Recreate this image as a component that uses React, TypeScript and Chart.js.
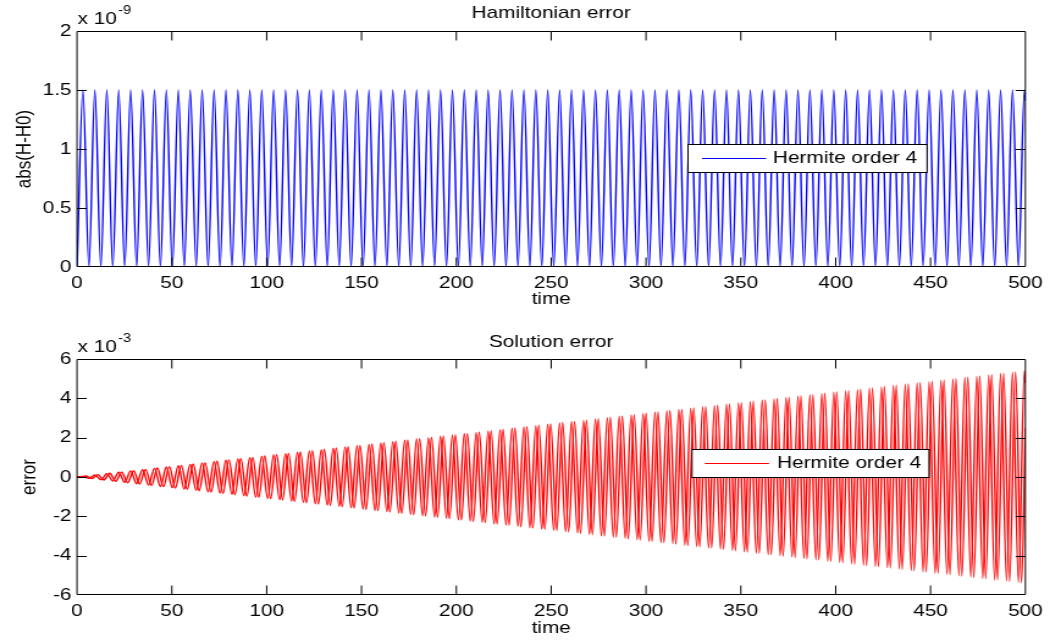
import React, { useEffect, useRef } from "react";
import { Chart, registerables } from "chart.js";

Chart.register(...registerables);

// ---------------- data ----------------
// times of the extremes of the oscillations (every half period)
const extremeTimes = [
  0, 3.14, 6.28, 9.42, 12.57, 15.71, 18.85, 21.99, 25.13, 28.27,
  31.42, 34.56, 37.7, 40.84, 43.98, 47.12, 50.27, 53.41, 56.55, 59.69,
  62.83, 65.97, 69.12, 72.26, 75.4, 78.54, 81.68, 84.82, 87.96, 91.11,
  94.25, 97.39, 100.53, 103.67, 106.81, 109.96, 113.1, 116.24, 119.38, 122.52,
  125.66, 128.81, 131.95, 135.09, 138.23, 141.37, 144.51, 147.65, 150.8, 153.94,
  157.08, 160.22, 163.36, 166.5, 169.65, 172.79, 175.93, 179.07, 182.21, 185.35,
  188.5, 191.64, 194.78, 197.92, 201.06, 204.2, 207.35, 210.49, 213.63, 216.77,
  219.91, 223.05, 226.19, 229.34, 232.48, 235.62, 238.76, 241.9, 245.04, 248.19,
  251.33, 254.47, 257.61, 260.75, 263.89, 267.04, 270.18, 273.32, 276.46, 279.6,
  282.74, 285.88, 289.03, 292.17, 295.31, 298.45, 301.59, 304.73, 307.88, 311.02,
  314.16, 317.3, 320.44, 323.58, 326.73, 329.87, 333.01, 336.15, 339.29, 342.43,
  345.58, 348.72, 351.86, 355, 358.14, 361.28, 364.42, 367.57, 370.71, 373.85,
  376.99, 380.13, 383.27, 386.42, 389.56, 392.7, 395.84, 398.98, 402.12, 405.27,
  408.41, 411.55, 414.69, 417.83, 420.97, 424.12, 427.26, 430.4, 433.54, 436.68,
  439.82, 442.96, 446.11, 449.25, 452.39, 455.53, 458.67, 461.81, 464.96, 468.1,
  471.24, 474.38, 477.52, 480.66, 483.81, 486.95, 490.09, 493.23, 496.37, 499.51,
  500,
];

// abs(H-H0), in units of 1e-9
const hamiltonianError = [
  0, 1.5, 0, 1.5, 0, 1.5, 0, 1.5, 0, 1.5,
  0, 1.5, 0, 1.5, 0, 1.5, 0, 1.5, 0, 1.5,
  0, 1.5, 0, 1.5, 0, 1.5, 0, 1.5, 0, 1.5,
  0, 1.5, 0, 1.5, 0, 1.5, 0, 1.5, 0, 1.5,
  0, 1.5, 0, 1.5, 0, 1.5, 0, 1.5, 0, 1.5,
  0, 1.5, 0, 1.5, 0, 1.5, 0, 1.5, 0, 1.5,
  0, 1.5, 0, 1.5, 0, 1.5, 0, 1.5, 0, 1.5,
  0, 1.5, 0, 1.5, 0, 1.5, 0, 1.5, 0, 1.5,
  0, 1.5, 0, 1.5, 0, 1.5, 0, 1.5, 0, 1.5,
  0, 1.5, 0, 1.5, 0, 1.5, 0, 1.5, 0, 1.5,
  0, 1.5, 0, 1.5, 0, 1.5, 0, 1.5, 0, 1.5,
  0, 1.5, 0, 1.5, 0, 1.5, 0, 1.5, 0, 1.5,
  0, 1.5, 0, 1.5, 0, 1.5, 0, 1.5, 0, 1.5,
  0, 1.5, 0, 1.5, 0, 1.5, 0, 1.5, 0, 1.5,
  0, 1.5, 0, 1.5, 0, 1.5, 0, 1.5, 0, 1.5,
  0, 1.5, 0, 1.5, 0, 1.5, 0, 1.5, 0, 1.5,
  1.41,
];

// extremes of the second error component (quarter period later)
const shiftedTimes = [
  0,
  1.57, 4.71, 7.85, 11, 14.14, 17.28, 20.42, 23.56, 26.7, 29.85,
  32.99, 36.13, 39.27, 42.41, 45.55, 48.69, 51.84, 54.98, 58.12, 61.26,
  64.4, 67.54, 70.69, 73.83, 76.97, 80.11, 83.25, 86.39, 89.54, 92.68,
  95.82, 98.96, 102.1, 105.24, 108.38, 111.53, 114.67, 117.81, 120.95, 124.09,
  127.23, 130.38, 133.52, 136.66, 139.8, 142.94, 146.08, 149.23, 152.37, 155.51,
  158.65, 161.79, 164.93, 168.08, 171.22, 174.36, 177.5, 180.64, 183.78, 186.92,
  190.07, 193.21, 196.35, 199.49, 202.63, 205.77, 208.92, 212.06, 215.2, 218.34,
  221.48, 224.62, 227.77, 230.91, 234.05, 237.19, 240.33, 243.47, 246.62, 249.76,
  252.9, 256.04, 259.18, 262.32, 265.46, 268.61, 271.75, 274.89, 278.03, 281.17,
  284.31, 287.46, 290.6, 293.74, 296.88, 300.02, 303.16, 306.31, 309.45, 312.59,
  315.73, 318.87, 322.01, 325.16, 328.3, 331.44, 334.58, 337.72, 340.86, 344,
  347.15, 350.29, 353.43, 356.57, 359.71, 362.85, 366, 369.14, 372.28, 375.42,
  378.56, 381.7, 384.85, 387.99, 391.13, 394.27, 397.41, 400.55, 403.7, 406.84,
  409.98, 413.12, 416.26, 419.4, 422.54, 425.69, 428.83, 431.97, 435.11, 438.25,
  441.39, 444.54, 447.68, 450.82, 453.96, 457.1, 460.24, 463.39, 466.53, 469.67,
  472.81, 475.95, 479.09, 482.24, 485.38, 488.52, 491.66, 494.8, 497.94,
  500,
];

// solution error, component 1 (at extremeTimes), units of 1e-3
const solutionErrorB = [
  0, 0.03, -0.07, 0.1, -0.14, 0.17, -0.2, 0.24, -0.27, 0.31,
  -0.34, 0.37, -0.41, 0.44, -0.48, 0.51, -0.54, 0.58, -0.61, 0.64,
  -0.68, 0.71, -0.75, 0.78, -0.81, 0.85, -0.88, 0.92, -0.95, 0.98,
  -1.02, 1.05, -1.09, 1.12, -1.15, 1.19, -1.22, 1.26, -1.29, 1.32,
  -1.36, 1.39, -1.43, 1.46, -1.49, 1.53, -1.56, 1.59, -1.63, 1.66,
  -1.7, 1.73, -1.76, 1.8, -1.83, 1.87, -1.9, 1.93, -1.97, 2.0,
  -2.04, 2.07, -2.1, 2.14, -2.17, 2.21, -2.24, 2.27, -2.31, 2.34,
  -2.38, 2.41, -2.44, 2.48, -2.51, 2.54, -2.58, 2.61, -2.65, 2.68,
  -2.71, 2.75, -2.78, 2.82, -2.85, 2.88, -2.92, 2.95, -2.99, 3.02,
  -3.05, 3.09, -3.12, 3.16, -3.19, 3.22, -3.26, 3.29, -3.33, 3.36,
  -3.39, 3.43, -3.46, 3.49, -3.53, 3.56, -3.6, 3.63, -3.66, 3.7,
  -3.73, 3.77, -3.8, 3.83, -3.87, 3.9, -3.94, 3.97, -4.0, 4.04,
  -4.07, 4.11, -4.14, 4.17, -4.21, 4.24, -4.28, 4.31, -4.34, 4.38,
  -4.41, 4.44, -4.48, 4.51, -4.55, 4.58, -4.61, 4.65, -4.68, 4.72,
  -4.75, 4.78, -4.82, 4.85, -4.89, 4.92, -4.95, 4.99, -5.02, 5.06,
  -5.09, 5.12, -5.16, 5.19, -5.23, 5.26, -5.29, 5.33, -5.36, 5.39,
  4.78,
];

// solution error, component 2 (at shiftedTimes), units of 1e-3
const solutionErrorA = [
  0,
  -0.02, 0.05, -0.08, 0.12, -0.15, 0.19, -0.22, 0.25, -0.29, 0.32,
  -0.36, 0.39, -0.42, 0.46, -0.49, 0.53, -0.56, 0.59, -0.63, 0.66,
  -0.7, 0.73, -0.76, 0.8, -0.83, 0.87, -0.9, 0.93, -0.97, 1.0,
  -1.03, 1.07, -1.1, 1.14, -1.17, 1.2, -1.24, 1.27, -1.31, 1.34,
  -1.37, 1.41, -1.44, 1.48, -1.51, 1.54, -1.58, 1.61, -1.65, 1.68,
  -1.71, 1.75, -1.78, 1.82, -1.85, 1.88, -1.92, 1.95, -1.98, 2.02,
  -2.05, 2.09, -2.12, 2.15, -2.19, 2.22, -2.26, 2.29, -2.32, 2.36,
  -2.39, 2.43, -2.46, 2.49, -2.53, 2.56, -2.6, 2.63, -2.66, 2.7,
  -2.73, 2.77, -2.8, 2.83, -2.87, 2.9, -2.93, 2.97, -3.0, 3.04,
  -3.07, 3.1, -3.14, 3.17, -3.21, 3.24, -3.27, 3.31, -3.34, 3.38,
  -3.41, 3.44, -3.48, 3.51, -3.55, 3.58, -3.61, 3.65, -3.68, 3.72,
  -3.75, 3.78, -3.82, 3.85, -3.88, 3.92, -3.95, 3.99, -4.02, 4.05,
  -4.09, 4.12, -4.16, 4.19, -4.22, 4.26, -4.29, 4.33, -4.36, 4.39,
  -4.43, 4.46, -4.5, 4.53, -4.56, 4.6, -4.63, 4.67, -4.7, 4.73,
  -4.77, 4.8, -4.83, 4.87, -4.9, 4.94, -4.97, 5.0, -5.04, 5.07,
  -5.11, 5.14, -5.17, 5.21, -5.24, 5.28, -5.31, 5.34, -5.38,
  2.51,
];

const timeTicks = [0, 50, 100, 150, 200, 250, 300, 350, 400, 450, 500];
const hamiltonianTicks = [0, 0.5, 1, 1.5, 2];
const errorTicks = [-6, -4, -2, 0, 2, 4, 6];

const legendLabel = "Hermite order 4";
const topTitle = "Hamiltonian error";
const bottomTitle = "Solution error";

// ---------------- layout / style ----------------
const CW = 860; // internal canvas width
const STRETCH = 1050 / CW; // the reference is stretched horizontally
const AREA_LEFT = 77 / STRETCH;
const AREA_RIGHT = 1030 / STRETCH;
const FONT = "'Liberation Sans', Arial, Helvetica, sans-serif";
const FS = 17;
const LINE_W = 1.4;

Chart.defaults.font.family = FONT;
Chart.defaults.color = "#000";

function toPoints(xs: number[], ys: number[]) {
  const n = Math.min(xs.length, ys.length);
  const out: { x: number; y: number }[] = [];
  for (let i = 0; i < n; i++) out.push({ x: xs[i], y: ys[i] });
  return out;
}

type PanelCfg = {
  top: number;
  height: number;
  padTop: number;
  xAxisH: number;
  title: string;
  titleBase: number;
  expSup: string;
  expBase: number;
  supBase: number;
  yTitle: string;
  yTitlePad: number;
  xTitlePad: number;
  yTicks: number[];
  legend: { x0: number; x1: number; y0: number; y1: number; l0: number; l1: number; tx: number };
  datasets: { label: string; color: string; points: { x: number; y: number }[] }[];
};

function matlabPlugin(p: PanelCfg) {
  return {
    id: "matlabAxes",
    afterDraw(chart: any) {
      const ctx = chart.ctx;
      const { left, right, top, bottom } = chart.chartArea;
      const xs = chart.scales.x;
      const ys = chart.scales.y;
      const T = Math.round(top) + 0.5;
      const B = Math.round(bottom) - 0.5;
      ctx.save();
      ctx.strokeStyle = "#000";
      ctx.lineWidth = 1;
      ctx.beginPath();
      ctx.rect(left, T, right - left, B - T);
      for (const v of timeTicks) {
        if (v <= xs.min || v >= xs.max) continue;
        const px = xs.getPixelForValue(v);
        ctx.moveTo(px, T);
        ctx.lineTo(px, T + 9);
        ctx.moveTo(px, B);
        ctx.lineTo(px, B - 9);
      }
      for (const v of p.yTicks) {
        if (v <= ys.min || v >= ys.max) continue;
        const py = Math.round(ys.getPixelForValue(v)) + 0.5;
        ctx.moveTo(left, py);
        ctx.lineTo(left + 8, py);
        ctx.moveTo(right, py);
        ctx.lineTo(right - 8, py);
      }
      ctx.stroke();

      // legend
      const L = p.legend;
      const ds = chart.data.datasets[0];
      ctx.fillStyle = "#fff";
      ctx.fillRect(L.x0, L.y0, L.x1 - L.x0, L.y1 - L.y0);
      ctx.strokeStyle = "#000";
      ctx.lineWidth = 1;
      ctx.strokeRect(L.x0, L.y0 + 0.5, L.x1 - L.x0, L.y1 - L.y0);
      const my = Math.round((L.y0 + L.y1) / 2) + 0.5;
      ctx.strokeStyle = ds.borderColor;
      ctx.lineWidth = 1.2;
      ctx.beginPath();
      ctx.moveTo(L.l0, my);
      ctx.lineTo(L.l1, my);
      ctx.stroke();
      ctx.fillStyle = "#000";
      ctx.font = `${FS}px ${FONT}`;
      ctx.textAlign = "left";
      ctx.textBaseline = "middle";
      ctx.fillText(ds.label, L.tx, my);

      // title
      ctx.textAlign = "center";
      ctx.textBaseline = "alphabetic";
      ctx.font = `${FS}px ${FONT}`;
      ctx.fillText(p.title, (left + right) / 2, p.titleBase);

      // exponent
      ctx.textAlign = "left";
      ctx.font = `${FS}px ${FONT}`;
      const ex = left + 0.5;
      ctx.fillText("x 10", ex, p.expBase);
      const w = ctx.measureText("x 10").width;
      ctx.font = `12px ${FONT}`;
      ctx.fillText(p.expSup, ex + w + 1, p.supBase);
      ctx.restore();
    },
  };
}

function buildConfig(p: PanelCfg, yMin: number, yMax: number): any {
  const tickFont = { family: FONT, size: FS };
  return {
    type: "line",
    data: {
      datasets: p.datasets.map((d) => ({
        label: d.label,
        data: d.points,
        borderColor: d.color,
        backgroundColor: d.color,
        borderWidth: LINE_W,
        pointRadius: 0,
        pointHoverRadius: 0,
        fill: false,
        cubicInterpolationMode: "monotone",
      })),
    },
    options: {
      animation: false,
      responsive: false,
      events: [],
      layout: { padding: { left: 0, right: CW - AREA_RIGHT, top: p.padTop, bottom: 0 } },
      plugins: {
        legend: { display: false },
        title: { display: false },
        tooltip: { enabled: false },
      },
      scales: {
        x: {
          type: "linear",
          min: 0,
          max: 500,
          afterBuildTicks: (s: any) => {
            s.ticks = timeTicks.map((v) => ({ value: v }));
          },
          afterFit: (s: any) => {
            s.height = p.xAxisH;
          },
          grid: { display: false, drawTicks: false },
          border: { display: false },
          ticks: {
            padding: 6,
            color: "#000",
            font: tickFont,
            maxRotation: 0,
            autoSkip: false,
            callback: (v: number) => String(v),
          },
          title: {
            display: true,
            text: "time",
            color: "#000",
            font: tickFont,
            padding: { top: 0, bottom: p.xTitlePad },
          },
        },
        y: {
          type: "linear",
          min: yMin,
          max: yMax,
          afterBuildTicks: (s: any) => {
            s.ticks = p.yTicks.map((v) => ({ value: v }));
          },
          afterFit: (s: any) => {
            s.width = AREA_LEFT;
          },
          grid: { display: false, drawTicks: false },
          border: { display: false },
          ticks: {
            padding: 4.5,
            color: "#000",
            font: tickFont,
            autoSkip: false,
            callback: (v: number) => String(v),
          },
          title: {
            display: true,
            text: p.yTitle,
            color: "#000",
            font: tickFont,
            padding: { top: p.yTitlePad, bottom: 0 },
          },
        },
      },
    },
    plugins: [matlabPlugin(p)],
  };
}

const topPanel: PanelCfg = {
  top: 0,
  height: 320,
  padTop: 31,
  xAxisH: 53,
  title: topTitle,
  titleBase: 18,
  expSup: "-9",
  expBase: 24,
  supBase: 13.5,
  yTitle: "abs(H-H0)",
  yTitlePad: 10,
  xTitlePad: 10,
  yTicks: hamiltonianTicks,
  legend: { x0: 563.5, x1: 759.3, y0: 144, y1: 172, l0: 575, l1: 627.4, tx: 633.1 },
  datasets: [{ label: legendLabel, color: "#0000ff", points: toPoints(extremeTimes, hamiltonianError) }],
};

const bottomPanel: PanelCfg = {
  top: 320,
  height: 321,
  padTop: 39,
  xAxisH: 46,
  title: bottomTitle,
  titleBase: 27,
  expSup: "-3",
  expBase: 32,
  supBase: 22,
  yTitle: "error",
  yTitlePad: 14,
  xTitlePad: 2,
  yTicks: errorTicks,
  legend: { x0: 566.8, x1: 760.9, y0: 129, y1: 157, l0: 577.4, l1: 629.9, tx: 636.4 },
  datasets: [
    { label: legendLabel, color: "#ff0000", points: toPoints(extremeTimes, solutionErrorB) },
    { label: "", color: "#ff0000", points: toPoints(shiftedTimes, solutionErrorA) },
  ],
};

function Panel({ cfg, yMin, yMax }: { cfg: PanelCfg; yMin: number; yMax: number }) {
  const ref = useRef<HTMLCanvasElement>(null);
  useEffect(() => {
    const canvas = ref.current;
    if (!canvas) return;
    const chart = new Chart(canvas, buildConfig(cfg, yMin, yMax));
    return () => chart.destroy();
  }, []);
  return (
    <div
      style={{
        position: "absolute",
        left: 0,
        top: cfg.top,
        width: CW,
        height: cfg.height,
        transform: `scaleX(${STRETCH})`,
        transformOrigin: "0 0",
      }}
    >
      <canvas ref={ref} width={CW} height={cfg.height} />
    </div>
  );
}

export default function App() {
  useEffect(() => {
    document.body.style.margin = "0";
  }, []);
  return (
    <div
      style={{
        position: "fixed",
        left: 0,
        top: 0,
        width: 1050,
        height: 641,
        background: "#fff",
        overflow: "hidden",
      }}
    >
      <Panel cfg={topPanel} yMin={0} yMax={2} />
      <Panel cfg={bottomPanel} yMin={-6} yMax={6} />
    </div>
  );
}
